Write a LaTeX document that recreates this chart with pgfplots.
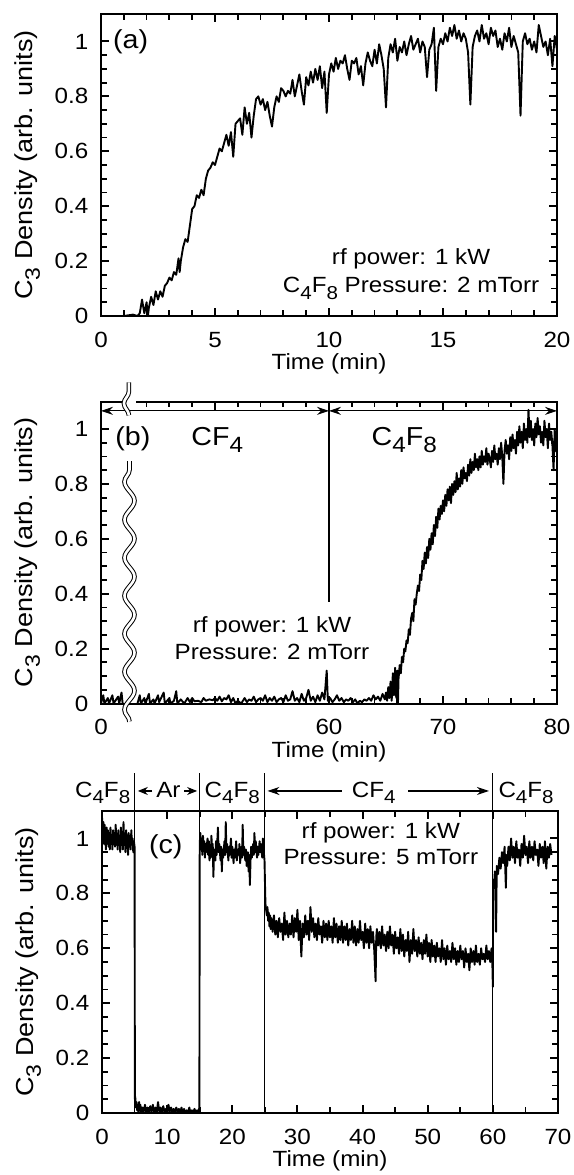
\documentclass[border=0pt]{standalone}
\usepackage{graphicx}
\usepackage{fontspec}
\setmainfont{Liberation Sans}[FakeStretch=1.1]
\usepackage{pgfplots}
\usepackage{pgfplotstable}
\pgfplotsset{compat=1.18}
\usetikzlibrary{arrows.meta,decorations.pathmorphing}
\newcommand{\sub}[1]{\raisebox{-0.55ex}{\scalebox{0.85}{#1}}}
\newcommand{\fs}{\fontsize{11}{13}\selectfont}
\newcommand{\fy}{\fontsize{12.3}{14}\selectfont}
\newcommand{\fl}{\fontsize{13}{15}\selectfont}

\pgfplotstableread{
x y
0 0
0.5 0
1.0 0
1.4 0.005
1.6 0
1.7 0.01
1.8 0.06
1.9 0.01
2.0 0.05
2.05 -0.005
2.1 0.03
2.2 0.07
2.3 0.04
2.4 0.09
2.5 0.06
2.6 0.09
2.7 0.07
2.8 0.11
2.9 0.12
3.0 0.14
3.1 0.13
3.2 0.16
3.3 0.15
3.4 0.21
3.45 0.16
3.5 0.20
3.6 0.25
3.7 0.28
3.8 0.27
3.9 0.33
4.0 0.39
4.1 0.40
4.2 0.44
4.3 0.43
4.4 0.46
4.5 0.44
4.6 0.50
4.7 0.53
4.8 0.54
4.9 0.56
5.0 0.55
5.1 0.58
5.2 0.61
5.3 0.60
5.4 0.63
5.5 0.66
5.6 0.62
5.7 0.67
5.8 0.58
5.9 0.70
6.0 0.71
6.1 0.72
6.2 0.66
6.3 0.76
6.4 0.70
6.5 0.74
6.6 0.65
6.7 0.73
6.8 0.79
6.9 0.80
7.0 0.77
7.1 0.79
7.2 0.75
7.3 0.78
7.4 0.73
7.5 0.69
7.6 0.76
7.7 0.80
7.8 0.78
7.9 0.83
8.0 0.82
8.1 0.80
8.2 0.82
8.3 0.81
8.4 0.86
8.5 0.80
8.6 0.84
8.7 0.88
8.8 0.82
8.9 0.77
9.0 0.87
9.1 0.84
9.2 0.89
9.3 0.85
9.4 0.90
9.5 0.86
9.6 0.91
9.7 0.83
9.8 0.89
9.9 0.74
10.0 0.88
10.1 0.92
10.2 0.89
10.3 0.94
10.4 0.90
10.5 0.93
10.6 0.92
10.7 0.95
10.8 0.90
10.9 0.86
11.0 0.93
11.1 0.92
11.2 0.94
11.3 0.88
11.4 0.91
11.5 0.84
11.6 0.92
11.7 0.96
11.8 0.93
11.9 0.91
12.0 0.97
12.1 0.92
12.2 0.99
12.3 0.95
12.4 0.90
12.5 0.76
12.6 0.94
12.7 0.99
12.8 0.96
12.9 1.01
13.0 0.93
13.1 0.98
13.2 0.96
13.3 1.00
13.4 0.95
13.5 0.99
13.6 1.02
13.7 0.97
13.8 0.99
13.9 1.01
14.0 0.96
14.1 1.00
14.2 0.98
14.3 0.87
14.4 0.97
14.5 0.99
14.6 1.05
14.7 0.82
14.8 0.98
14.9 1.01
15.0 0.99
15.1 1.03
15.2 1.00
15.3 1.05
15.4 1.02
15.5 1.06
15.6 1.01
15.7 1.04
15.8 1.00
15.9 1.03
16.0 1.01
16.1 0.96
16.2 0.77
16.3 0.98
16.4 1.02
16.5 1.04
16.6 1.00
16.7 1.06
16.8 1.01
16.9 1.03
17.0 0.99
17.1 1.05
17.2 1.02
17.3 1.04
17.4 0.98
17.5 1.01
17.6 0.97
17.7 1.03
17.8 1.00
17.9 1.05
18.0 0.98
18.1 1.02
18.2 0.99
18.3 0.96
18.4 0.73
18.5 1.00
18.6 1.03
18.7 0.99
18.8 1.01
18.9 0.97
19.0 1.00
19.1 0.96
19.2 1.06
19.3 1.02
19.4 0.98
19.5 1.00
19.6 0.95
19.7 1.01
19.8 0.91
19.9 1.02
20.0 0.97
}\dataA

\pgfplotstableread{
x y
40.0 0
40.2 0.03
40.3 0
40.6 0.02
40.7 0
41.0 0.03
41.1 0
41.5 0.025
41.6 0
41.8 0.04
41.9 0
42.4 nan
43.2 0
43.4 0.03
43.5 0
43.8 0.02
43.9 0
44.2 0.035
44.3 0
44.6 0.015
44.7 0
45.0 0.03
45.1 0.005
45.5 0.04
45.6 0
46.0 0.02
46.1 0
46.4 0.01
46.6 0.045
46.7 0
47.0 0.015
47.3 0
47.6 0.02
47.8 0.005
48.0 0.02
48.2 0.008
48.5 0.01
48.8 0.005
49.0 0.02
49.2 0.01
49.5 0.015
49.8 0.012
50.0 0.02
50.2 0.01
50.4 0.025
50.6 0.008
50.8 0.02
51.0 0.015
51.2 0.03
51.4 0.005
51.6 0.02
51.8 0
52.0 0.01
52.3 0
52.6 0.02
52.8 0.005
53.0 0.015
53.2 0.01
53.4 0.025
53.6 0.005
53.8 0.015
54.0 0.02
54.2 0.01
54.4 0.03
54.6 0.005
54.8 0.02
55.0 0.01
55.2 0.025
55.4 0.005
55.6 0.015
55.8 0.02
56.0 0.005
56.2 0.03
56.4 0.01
56.6 0.015
56.8 0.045
57.0 0.01
57.2 0.02
57.4 0.005
57.6 0.035
57.8 0.01
58.0 0.02
58.2 0.05
58.4 0.01
58.6 0.025
58.8 0.005
59.0 0.03
59.2 0.01
59.4 0.04
59.6 0.015
59.8 0.12
59.9 0.01
60.1 0.02
60.3 0.005
60.5 0.015
60.7 0.03
60.9 0.01
61.1 0.02
61.3 0.005
61.5 0.015
61.7 0.01
61.9 0.02
62.1 0.005
62.3 0.015
62.5 0
62.7 0.01
62.9 0.005
63.1 0.015
63.3 0.01
63.5 0.02
63.7 0.01
63.9 0.03
64.1 0.015
64.3 0.025
64.5 0.01
64.7 0.035
64.9 0.015
65.0 0.04
65.1 0.01
65.2 0.06
65.3 0.02
65.4 0.08
65.5 0.01
65.6 0.11
65.7 0.03
65.8 0.13
65.9 0.02
66.0 0.12
66.05 0.0
66.1 0.09
66.2 0.14
66.3 0.11
66.4 0.17
66.5 0.15
66.6 0.20
66.7 0.19
66.8 0.23
66.9 0.22
67.0 0.27
67.1 0.25
67.2 0.31
67.3 0.33
67.4 0.30
67.5 0.38
67.6 0.36
67.7 0.40
67.8 0.43
67.9 0.41
68.0 0.47
68.1 0.45
68.2 0.52
68.3 0.49
68.4 0.55
68.5 0.51
68.6 0.57
68.7 0.53
68.8 0.60
68.9 0.56
69.0 0.62
69.1 0.58
69.2 0.65
69.3 0.61
69.4 0.68
69.5 0.64
69.6 0.71
69.7 0.67
69.8 0.72
69.9 0.69
70.0 0.74
70.1 0.70
70.2 0.76
70.3 0.72
70.4 0.78
70.5 0.74
70.6 0.79
70.7 0.73
70.8 0.80
70.9 0.76
71.0 0.81
71.1 0.77
71.2 0.84
71.3 0.78
71.4 0.82
71.5 0.79
71.6 0.85
71.7 0.80
71.8 0.86
71.9 0.82
72.0 0.84
72.1 0.81
72.2 0.87
72.3 0.83
72.4 0.89
72.5 0.84
72.6 0.88
72.7 0.85
72.8 0.91
72.9 0.86
73.0 0.89
73.1 0.85
73.2 0.90
73.3 0.86
73.4 0.92
73.5 0.87
73.6 0.90
73.7 0.88
73.8 0.93
73.9 0.87
74.0 0.91
74.1 0.89
74.2 0.86
74.3 0.92
74.4 0.88
74.5 0.94
74.6 0.89
74.7 0.91
74.8 0.87
74.9 0.93
75.0 0.89
75.1 0.95
75.2 0.90
75.3 0.80
75.4 0.92
75.5 0.96
75.6 0.91
75.7 0.94
75.8 0.89
75.9 0.97
76.0 0.92
76.1 0.98
76.2 0.93
76.3 0.96
76.4 0.91
76.5 0.99
76.6 0.94
76.7 1.01
76.8 0.95
76.9 0.99
77.0 0.93
77.1 1.02
77.2 0.96
77.3 1.00
77.4 0.95
77.5 1.07
77.6 0.97
77.7 1.03
77.8 0.96
77.9 1.00
78.0 0.94
78.1 1.02
78.2 0.97
78.3 1.04
78.4 0.98
78.5 1.01
78.6 0.95
78.7 0.99
78.8 0.94
78.9 1.03
79.0 0.97
79.1 1.00
79.2 0.93
79.3 1.02
79.4 0.96
79.5 0.99
79.6 0.94
79.7 0.85
79.8 1.00
79.9 0.92
80.0 0.96
}\dataB

\pgfplotstableread{
x y
0.0 1.08
0.1 1.02
0.2 1.06
0.3 0.98
0.4 1.05
0.5 1.00
0.6 0.96
0.7 1.04
0.8 0.99
0.9 1.03
1.0 0.97
1.1 1.02
1.2 0.96
1.3 1.04
1.4 0.99
1.5 1.01
1.6 0.96
1.7 1.03
1.8 0.98
1.9 1.02
2.0 0.97
2.1 1.05
2.2 0.99
2.3 1.01
2.4 0.96
2.5 1.03
2.6 0.98
2.7 1.00
2.8 0.95
2.9 1.04
3.0 0.99
3.1 1.02
3.2 0.96
3.3 1.06
3.4 0.98
3.5 1.01
3.6 0.95
3.7 1.03
3.8 0.98
3.9 1.00
4.0 0.94
4.1 1.02
4.2 0.97
4.3 1.01
4.4 0.96
4.5 1.03
4.6 0.98
4.7 1.00
4.8 0.95
4.9 0.99
5.0 0.97
5.05 0.05
5.1 0.06
5.2 0.02
5.3 0.04
5.4 0.01
5.5 0.03
5.6 0.0
5.7 0.04
5.8 0.01
5.9 0.03
6.0 0.0
6.2 0.02
6.4 0.005
6.6 0.03
6.8 0.0
7.0 0.02
7.2 0.005
7.4 0.025
7.6 0.0
7.8 0.03
8.0 0.005
8.2 0.02
8.4 0.0
8.6 0.04
8.8 0.005
9.0 0.02
9.2 0.0
9.4 0.025
9.6 0.005
9.8 0.015
10.0 0.0
10.2 0.03
10.4 0.005
10.6 0.02
10.8 0.0
11.0 0.015
11.2 0.0
11.4 0.02
11.6 0.005
11.8 0.015
12.0 0.0
12.2 0.02
12.4 0.0
12.6 0.015
12.8 0.0
13.0 0.01
13.2 0.0
13.4 0.02
13.6 0.0
13.8 0.01
14.0 0.0
14.2 0.015
14.4 0.0
14.6 0.01
14.8 0.0
14.95 0.02
15.0 0.98
15.1 1.02
15.2 0.96
15.3 1.00
15.4 0.94
15.5 1.01
15.6 0.97
15.7 0.99
15.8 0.93
15.9 0.98
16.0 0.95
16.2 1.00
16.3 0.94
16.4 0.99
16.5 0.92
16.6 0.97
16.7 0.93
16.8 1.01
16.9 0.95
17.0 0.98
17.1 0.86
17.2 0.96
17.4 0.92
17.5 0.99
17.6 0.94
17.8 1.04
17.9 0.95
18.0 0.98
18.2 0.92
18.3 0.97
18.4 0.88
18.5 0.96
18.6 0.93
18.8 0.99
18.9 0.94
19.0 1.06
19.1 0.95
19.2 0.98
19.4 0.92
19.5 0.97
19.6 0.94
19.8 1.00
19.9 0.93
20.0 0.97
20.2 0.91
20.3 0.96
20.4 0.93
20.6 0.99
20.7 0.92
20.8 0.96
21.0 0.94
21.1 0.98
21.2 0.91
21.4 0.97
21.5 0.93
21.6 1.05
21.7 0.94
21.8 0.97
22.0 0.92
22.1 0.96
22.2 0.90
22.4 0.95
22.5 0.88
22.6 0.94
22.7 0.83
22.8 0.92
22.9 0.97
23.0 0.93
23.2 0.98
23.3 0.94
23.4 1.02
23.5 0.95
23.6 0.99
23.8 0.93
23.9 0.97
24.0 0.94
24.2 0.99
24.3 0.95
24.4 0.98
24.6 0.93
24.7 1.00
24.8 0.96
24.95 0.92
25.05 0.80
25.1 0.76
25.2 0.74
25.3 0.72
25.4 0.75
25.5 0.70
25.6 0.73
25.7 0.68
25.8 0.72
25.9 0.67
26.0 0.71
26.2 0.66
26.4 0.72
26.6 0.65
26.8 0.70
27.0 0.64
27.2 0.71
27.4 0.66
27.6 0.69
27.8 0.63
28.0 0.73
28.2 0.65
28.4 0.70
28.6 0.64
28.8 0.69
29.0 0.65
29.2 0.72
29.4 0.64
29.6 0.71
29.8 0.66
30.0 0.74
30.2 0.63
30.4 0.70
30.6 0.57
30.8 0.69
31.0 0.64
31.2 0.72
31.4 0.65
31.6 0.70
31.8 0.63
32.0 0.75
32.2 0.66
32.4 0.71
32.6 0.64
32.8 0.69
33.0 0.63
33.2 0.71
33.4 0.65
33.6 0.68
33.8 0.62
34.0 0.70
34.2 0.64
34.4 0.69
34.6 0.63
34.8 0.70
35.0 0.64
35.2 0.68
35.4 0.62
35.6 0.71
35.8 0.64
36.0 0.69
36.2 0.62
36.4 0.68
36.6 0.63
36.8 0.70
37.0 0.62
37.2 0.68
37.4 0.63
37.6 0.69
37.8 0.61
38.0 0.67
38.2 0.63
38.4 0.70
38.6 0.62
38.8 0.68
39.0 0.61
39.2 0.67
39.4 0.62
39.6 0.70
39.8 0.63
40.0 0.66
40.2 0.60
40.4 0.69
40.6 0.62
40.8 0.67
41.0 0.60
41.2 0.68
41.4 0.62
41.6 0.66
41.8 0.59
42.0 0.48
42.1 0.64
42.2 0.67
42.4 0.61
42.6 0.66
42.8 0.60
43.0 0.68
43.2 0.61
43.4 0.65
43.6 0.59
43.8 0.66
44.0 0.60
44.2 0.68
44.4 0.61
44.6 0.65
44.8 0.58
45.0 0.66
45.2 0.60
45.4 0.64
45.6 0.58
45.8 0.67
46.0 0.59
46.2 0.65
46.4 0.57
46.6 0.63
46.8 0.59
47.0 0.66
47.2 0.55
47.4 0.63
47.6 0.58
47.8 0.67
48.0 0.59
48.2 0.63
48.4 0.57
48.6 0.64
48.8 0.58
49.0 0.62
49.2 0.56
49.4 0.63
49.6 0.58
49.8 0.65
50.0 0.57
50.2 0.62
50.4 0.55
50.6 0.63
50.8 0.57
51.0 0.61
51.2 0.55
51.4 0.62
51.6 0.57
51.8 0.60
52.0 0.55
52.2 0.63
52.4 0.56
52.6 0.60
52.8 0.54
53.0 0.61
53.2 0.56
53.4 0.59
53.6 0.55
53.8 0.62
54.0 0.56
54.2 0.60
54.4 0.54
54.6 0.59
54.8 0.55
55.0 0.61
55.2 0.56
55.4 0.59
55.6 0.53
55.8 0.60
56.0 0.55
56.2 0.58
56.4 0.52
56.6 0.60
56.8 0.55
57.0 0.59
57.2 0.54
57.4 0.61
57.6 0.55
57.8 0.58
58.0 0.54
58.2 0.60
58.4 0.56
58.6 0.58
58.8 0.55
59.0 0.61
59.2 0.56
59.4 0.59
59.6 0.55
59.8 0.60
59.9 0.57
60.0 0.46
60.05 0.80
60.1 0.85
60.2 0.82
60.3 0.88
60.4 0.84
60.5 0.66
60.6 0.90
60.8 0.87
61.0 0.93
61.2 0.89
61.4 0.95
61.6 0.91
61.8 0.97
62.0 0.82
62.1 0.94
62.2 0.90
62.4 0.97
62.6 0.92
62.8 1.00
63.0 0.93
63.2 0.97
63.4 0.91
63.6 0.99
63.8 0.93
64.0 0.96
64.2 0.90
64.4 0.98
64.6 0.93
64.8 1.01
65.0 0.94
65.2 0.97
65.4 0.91
65.6 0.99
65.8 0.93
66.0 0.97
66.2 0.92
66.4 0.99
66.6 0.94
66.8 0.96
67.0 0.90
67.2 0.98
67.4 0.93
67.6 0.97
67.8 0.91
68.0 0.99
68.2 0.89
68.4 0.97
68.6 0.93
68.8 0.98
69.0 0.94
}\dataC

\pgfplotsset{
  myaxis/.style={
    scale only axis, width=228pt, height=151pt,
    ymin=0, ymax=1.1,
    ytick={0,0.2,0.4,0.6,0.8,1}, minor y tick num=3,
    xmajorticks=true, ymajorticks=true, xminorticks=true, yminorticks=true,
    xtick pos=both, ytick pos=both,
    tick align=inside, major tick length=4pt, minor tick length=2.8pt,
    axis line style={line width=1pt},
    major tick style={black, line width=1pt},
    minor tick style={black, line width=0.9pt},
    tick label style={font=\fs},
    /pgf/number format/assume math mode=true,
    xticklabel style={yshift=-4.5pt},
    yticklabel style={xshift=-2.8pt},
    every axis x label/.style={at={([yshift=-24pt]axis description cs:0.5,0)}, anchor=center, font=\fs},
    every axis y label/.style={at={([xshift=-36.7pt]axis description cs:0,0.5)}, rotate=90, anchor=center, font=\fy},
    xlabel={Time (min)},
    ylabel={C\sub{3} Density (arb. units)},
    clip mode=individual,
  },
  dat/.style={black, line width=0.95pt, line join=round, no markers},
}

\begin{document}
\begin{tikzpicture}
\path[use as bounding box] (0,0) rectangle (287pt,-587.5pt);

% ---------- (a)
\begin{axis}[myaxis, at={(50.5pt,-158pt)}, anchor=south west,
  xmin=0, xmax=20, xtick={0,5,10,15,20}, minor x tick num=4]
\addplot[dat] table[x=x,y=y] {\dataA};
\node[font=\fl] at (axis cs:1.3,1.0) {(a)};
\node[font=\fs, anchor=base] at (axis cs:13.6,0.186) {rf power: 1 kW};
\node[font=\fs, anchor=base] at (axis cs:13.6,0.084) {C\sub{4}F\sub{8} Pressure: 2 mTorr};
\end{axis}

% ---------- (b)
\begin{axis}[myaxis, at={(50.5pt,-351.75pt)}, anchor=south west,
  xmin=40, xmax=80, xtick={40,50,60,70,80}, xticklabels={0,{},60,70,80},
  minor xtick={44,46,48,52,54,56,58,62,64,66,68,72,74,76,78},
  unbounded coords=jump]
\addplot[dat] table[x=x,y=y] {\dataB};
\fill[white] (axis cs:41.95,1.085) rectangle (axis cs:43.1,1.115);
\draw[line width=0.55pt] (axis cs:60,0.37) -- (axis cs:60,1.1);
\draw[line width=0.55pt, {Stealth[length=6pt,width=4pt]}-{Stealth[length=6pt,width=4pt]}] (axis cs:40,1.066) -- (axis cs:60,1.066);
\draw[line width=0.55pt, {Stealth[length=6pt,width=4pt]}-{Stealth[length=6pt,width=4pt]}] (axis cs:60,1.066) -- (axis cs:80,1.066);
\draw[line width=0.5pt, double=white, double distance=1.3pt, decorate, decoration={snake, amplitude=2.5pt, segment length=19pt}] (axis cs:42.5,-0.066) -- (axis cs:42.5,0.883);
\draw[line width=0.5pt, double=white, double distance=1.3pt, decorate, decoration={snake, amplitude=2.5pt, segment length=19pt}] (axis cs:42.45,1.05) -- (axis cs:42.45,1.17);
\node[font=\fl] at (axis cs:42.8,0.963) {(b)};
\node[font=\fl, anchor=base] at (axis cs:50.2,0.94) {CF\sub{4}};
\node[font=\fl, anchor=base] at (axis cs:66.6,0.94) {C\sub{4}F\sub{8}};
\node[font=\fs, anchor=base] at (axis cs:55,0.26) {rf power: 1 kW};
\node[font=\fs, anchor=base] at (axis cs:55,0.16) {Pressure: 2 mTorr};
\end{axis}

% ---------- (c)
\begin{axis}[myaxis, at={(51pt,-556.5pt)}, anchor=south west,
  xmin=0, xmax=70, xtick={0,10,...,70}, minor x tick num=1]
\addplot[dat] table[x=x,y=y] {\dataC};
\draw[line width=0.55pt] (axis cs:5,0) -- (axis cs:5,1.24);
\draw[line width=0.55pt] (axis cs:15,0) -- (axis cs:15,1.24);
\draw[line width=0.55pt] (axis cs:25,0) -- (axis cs:25,1.24);
\draw[line width=0.55pt] (axis cs:60,0) -- (axis cs:60,1.24);
\node[font=\fl] at (axis cs:9.8,0.97) {(c)};
\node[font=\fs, anchor=base] at (axis cs:42.8,1.0) {rf power: 1 kW};
\node[font=\fs, anchor=base] at (axis cs:42.8,0.905) {Pressure: 5 mTorr};
\node[font=\fs, anchor=base east, inner sep=1pt] at (axis cs:4.7,1.15) {C\sub{4}F\sub{8}};
\node[font=\fs, anchor=base] at (axis cs:10.2,1.15) {Ar};
\draw[line width=0.55pt, -{Stealth[length=5pt,width=4pt]}] (axis cs:7.7,1.173) -- (axis cs:5.5,1.173);
\draw[line width=0.55pt, -{Stealth[length=5pt,width=4pt]}] (axis cs:12.6,1.173) -- (axis cs:14.6,1.173);
\node[font=\fs, anchor=base] at (axis cs:20.0,1.15) {C\sub{4}F\sub{8}};
\node[font=\fs, anchor=base] at (axis cs:41.7,1.15) {CF\sub{4}};
\draw[line width=0.55pt, -{Stealth[length=6pt,width=4pt]}] (axis cs:36.8,1.173) -- (axis cs:25.4,1.173);
\draw[line width=0.55pt, -{Stealth[length=6pt,width=4pt]}] (axis cs:47.0,1.173) -- (axis cs:59.4,1.173);
\node[font=\fs, anchor=base] at (axis cs:65.1,1.15) {C\sub{4}F\sub{8}};
\end{axis}
\end{tikzpicture}
\end{document}
